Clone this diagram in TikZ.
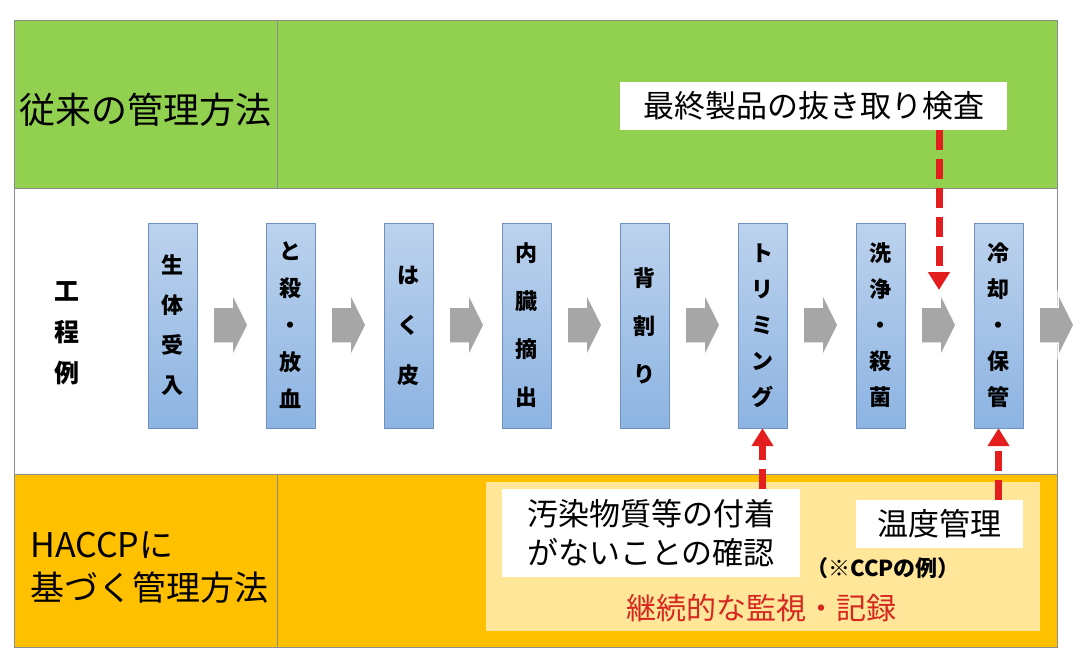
\documentclass[tikz,border=0pt]{standalone}
\usepackage{fontspec}
\setmainfont{Noto Sans CJK JP}
\definecolor{rowgreen}{RGB}{146, 208, 80}
\definecolor{roworange}{RGB}{255, 192, 0}
\definecolor{panelyellow}{RGB}{255, 230, 153}
\definecolor{steptop}{RGB}{188, 210, 237}
\definecolor{stepbot}{RGB}{141, 180, 226}
\definecolor{stepline}{RGB}{110, 145, 190}
\definecolor{flowgray}{RGB}{166, 166, 166}
\definecolor{ccpred}{RGB}{228, 30, 30}
\definecolor{recred}{RGB}{214, 40, 32}
\definecolor{gridgray}{RGB}{140, 140, 140}
\usepackage{tikz}
\usetikzlibrary{
    arrows.meta,
    positioning
}

\tikzset{
    stepbox/.style={draw=stepline, top color=steptop, bottom color=stepbot,
        minimum width=49pt, minimum height=205pt, inner sep=0pt, align=center},
    flowarrow/.style={fill=flowgray, draw=white, line width=1.5pt},
    checkarrow/.style={draw=ccpred, line width=7pt, dash pattern=on 20pt off 9pt,
        -{Triangle[width=21pt,length=18pt]}},
    whitelabel/.style={fill=white, inner sep=0pt, align=center,
        font=\fontsize{31}{39}\selectfont}
}

\begin{document}
\begin{tikzpicture}[x=1pt, y=-1pt]
                    \useasboundingbox (0,0) rectangle (1089,667);

                    % Table rows
                    \draw[fill=rowgreen, draw=gridgray] (14,20) rectangle (1057,188);
                    \draw[fill=white, draw=gridgray] (14,188) rectangle (1057,474);
                    \draw[fill=roworange, draw=gridgray] (14,474) rectangle (1057,647);
                    \draw[gridgray] (277,20) -- (277,188);
                    \draw[gridgray] (277,474) -- (277,647);

                    % HACCP panel
                    \fill[panelyellow] (486,482) rectangle (1040,631);

                    % Row headings
                    \node[anchor=west, font=\fontsize{36}{40}\selectfont] (oldway) at (16,110) {従来の管理方法};
                    \node[anchor=west, align=left, font=\fontsize{34}{43}\selectfont] (haccpway) at (27,567) {HACCPに\\基づく管理方法};
                    \node[align=center, font=\fontsize{25}{41}\selectfont\bfseries] (steps) at (67,333) {工\\程\\例};

                    % Process steps
                    \foreach \txt/\sk [count=\i] in {生\\体\\受\\入/40, と\\殺\\・\\放\\血/37,
                        は\\く\\皮/50, 内\\臓\\摘\\出/48, 背\\割\\り/48,
                        ト\\リ\\ミ\\ン\\グ/36, 洗\\浄\\・\\殺\\菌/36, 冷\\却\\・\\保\\管/36}
                        \node[stepbox, font=\fontsize{22}{\sk}\selectfont\bfseries] (p\i) at ({54.5+118*\i},325.5) {\txt};

                    % Flow arrows
                    \foreach \i in {1,...,8} {
                        \pgfmathsetmacro\xa{95+118*\i}
                        \draw[flowarrow] (\xa,307) -- ++(19,0) -- ++(0,-14) -- ++(16,32)
                            -- ++(-16,32) -- ++(0,-14) -- ++(-19,0) -- cycle;
                    }

                    % Checks
                    \node[whitelabel, minimum width=387pt, minimum height=48pt] (final) at (813.5,106) {最終製品の抜き取り検査};
                    \node[whitelabel, minimum width=298pt, minimum height=88pt] (dirt) at (651,533) {汚染物質等の付着\\がないことの確認};
                    \node[whitelabel, minimum width=167pt, minimum height=48pt] (temp) at (939.5,524) {温度管理};
                    \node[font=\fontsize{22}{26}\selectfont\bfseries] (ccpnote) at (883,568) {（※CCPの例）};
                    \node[text=recred, font=\fontsize{30}{36}\selectfont] (record) at (761,608) {継続的な監視・記録};

                    \coordinate (chk) at (939,290);
                    \draw[checkarrow] (final.south -| chk) -- (chk);
                    \draw[checkarrow] (dirt.north -| p6) -- (p6.south);
                    \draw[checkarrow] (temp.north -| p8) -- (p8.south);
\end{tikzpicture}
\end{document}
